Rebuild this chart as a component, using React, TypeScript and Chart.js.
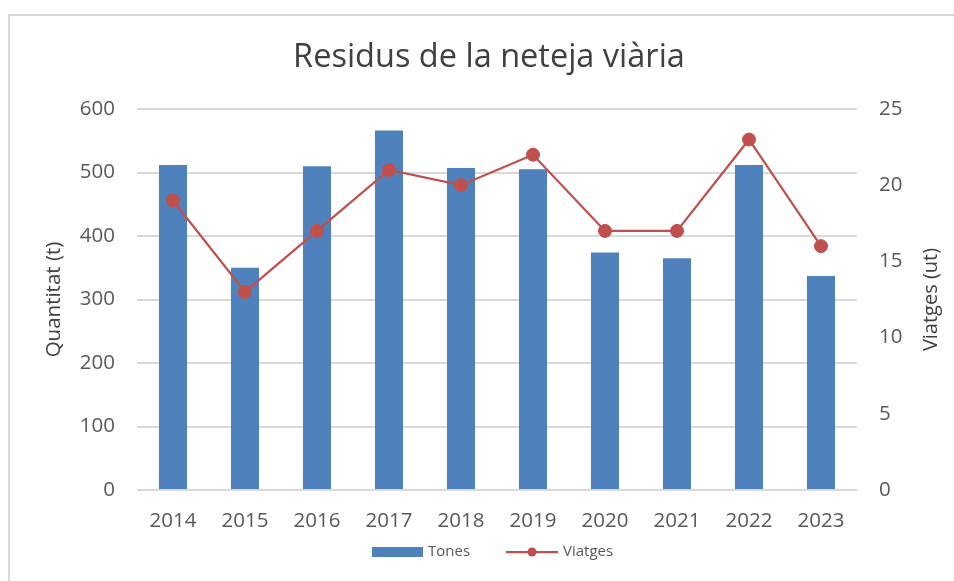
import React, { useEffect, useRef } from "react";
import { Chart, registerables } from "chart.js";

Chart.register(...registerables);

const years = ["2014", "2015", "2016", "2017", "2018", "2019", "2020", "2021", "2022", "2023"];
const tones = [512, 350, 510, 566, 507, 505, 374, 365, 512, 337];
const viatges = [19, 13, 17, 21, 20, 22, 17, 17, 23, 16];
const seriesNames = ["Tones", "Viatges"];
const titleText = "Residus de la neteja viària";
const leftAxisTitle = "Quantitat (t)";
const rightAxisTitle = "Viatges (ut)";

const BLUE = "#4f81bd";
const RED = "#c0504d";
const GRID = "#d9d9d9";
const TEXT = "#595959";
const FONT = "'Open Sans', 'Liberation Sans', sans-serif";

const legendPlugin = {
  id: "customLegend",
  afterDraw(chart: any) {
    const ctx = chart.ctx;
    ctx.save();
    // chart title
    ctx.font = `32.5px ${FONT}`;
    ctx.fillStyle = "#404040";
    ctx.textAlign = "center";
    ctx.textBaseline = "middle";
    ctx.fillText(titleText, 489, 58);

    // right axis title, rotated to read bottom-to-top
    const area = chart.chartArea;
    ctx.font = `20px ${FONT}`;
    ctx.translate(931, (area.top + area.bottom) / 2);
    ctx.rotate(-Math.PI / 2);
    ctx.fillText(rightAxisTitle, 0, 0);
    ctx.setTransform(1, 0, 0, 1, 0, 0);

    const y = 552;
    ctx.font = `15px ${FONT}`;
    ctx.textBaseline = "middle";
    ctx.textAlign = "left";
    let x = 372;
    ctx.fillStyle = BLUE;
    ctx.fillRect(x, y - 5, 51, 10);
    ctx.fillStyle = TEXT;
    ctx.fillText(seriesNames[0], 428, y);
    x = 506;
    ctx.strokeStyle = RED;
    ctx.lineWidth = 2.25;
    ctx.beginPath();
    ctx.moveTo(x, y);
    ctx.lineTo(x + 52, y);
    ctx.stroke();
    ctx.fillStyle = RED;
    ctx.beginPath();
    ctx.arc(x + 26, y, 4.5, 0, Math.PI * 2);
    ctx.fill();
    ctx.fillStyle = TEXT;
    ctx.fillText(seriesNames[1], 563, y);
    ctx.restore();
  },
};

export default function App() {
  const ref = useRef<HTMLCanvasElement>(null);
  useEffect(() => {
    document.body.style.margin = "0";
    const chart = new Chart(ref.current!, {
      type: "bar",
      data: {
        labels: years,
        datasets: [
          {
            type: "line",
            label: seriesNames[1],
            data: viatges,
            yAxisID: "y1",
            borderColor: RED,
            backgroundColor: RED,
            borderWidth: 2.25,
            pointRadius: 6.5,
            pointBorderWidth: 1,
            pointBackgroundColor: RED,
            pointBorderColor: RED,
            tension: 0,
            order: 0,
          } as any,
          {
            type: "bar",
            label: seriesNames[0],
            data: tones,
            yAxisID: "y",
            backgroundColor: BLUE,
            categoryPercentage: 1,
            barPercentage: 0.39,
            order: 1,
          },
        ],
      },
      options: {
        responsive: false,
        animation: false,
        layout: { padding: { left: 0, right: 0, top: 109, bottom: 41 } },
        plugins: {
          legend: { display: false },
          tooltip: { enabled: false },
          title: { display: false },
        },
        scales: {
          x: {
            grid: { display: false, drawTicks: false },
            border: { display: true, color: GRID, width: 1 },
            ticks: { color: TEXT, font: { family: FONT, size: 20.5 }, padding: 19, maxRotation: 0 },
            afterFit: (s: any) => {
              s.height = 50;
            },
          },
          y: {
            position: "left",
            min: 0,
            max: 600,
            ticks: { stepSize: 100, color: TEXT, font: { family: FONT, size: 20.5 }, padding: 22 },
            grid: { color: GRID, lineWidth: 2, drawTicks: false },
            border: { display: false },
            title: {
              display: true,
              text: leftAxisTitle,
              color: "#404040",
              font: { family: FONT, size: 20.5 },
              padding: { top: 42, bottom: 0 },
            },
            afterFit: (s: any) => {
              s.width = 137;
            },
          },
          y1: {
            position: "right",
            min: 0,
            max: 25,
            ticks: { stepSize: 5, color: TEXT, font: { family: FONT, size: 20.5 }, padding: 22 },
            grid: { display: false, drawTicks: false },
            border: { display: false },
            afterFit: (s: any) => {
              s.width = 97;
            },
          },
        },
      },
      plugins: [legendPlugin],
    });
    return () => chart.destroy();
  }, []);
  return (
    <div style={{ position: "relative", width: 954, height: 581, overflow: "hidden", background: "#fff" }}>
      <div
        style={{
          position: "absolute",
          left: 8,
          top: 14,
          width: 1000,
          height: 700,
          border: `2px solid ${GRID}`,
          boxSizing: "border-box",
        }}
      />
      <canvas ref={ref} width={954} height={581} style={{ position: "absolute", left: 0, top: 0, display: "block" }} />
    </div>
  );
}
